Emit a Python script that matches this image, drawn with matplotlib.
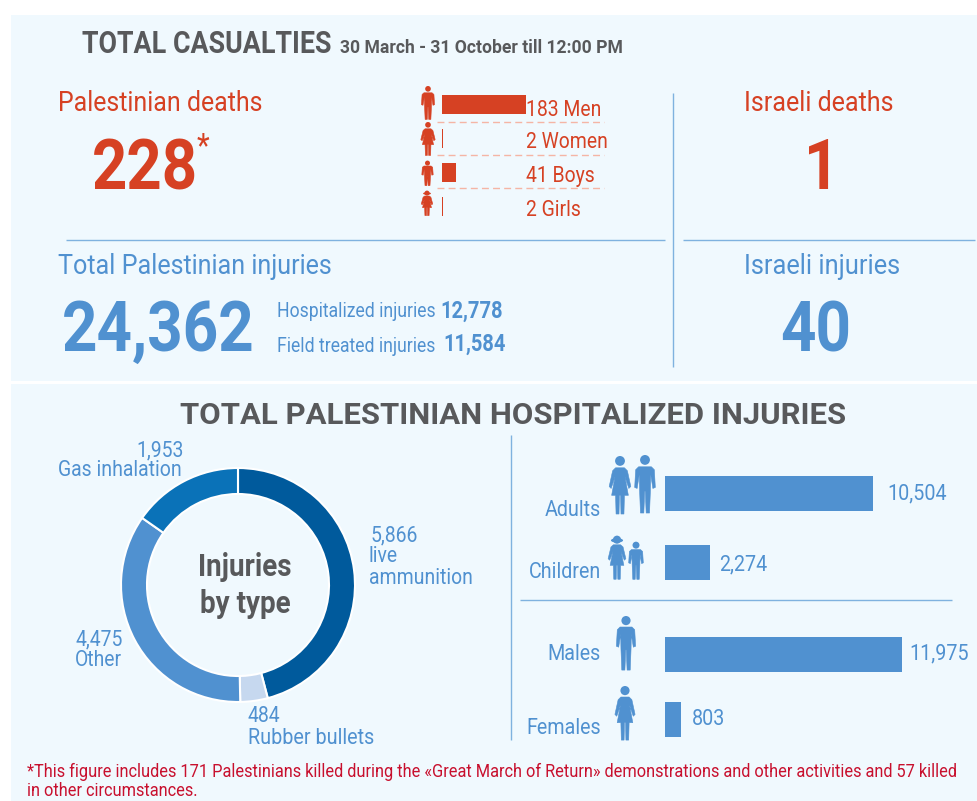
import os
import tempfile
import matplotlib
matplotlib.use("Agg")
import matplotlib.pyplot as plt
from matplotlib import font_manager as fm
from matplotlib.patches import Rectangle, Circle, Polygon, Ellipse

W, H = 978, 801
plt.rcParams['font.family'] = ['Roboto', 'DejaVu Sans']

# ---- data
death_labels = ["183 Men", "2 Women", "41 Boys", "2 Girls"]
death_bar_lengths = [183, 2, 30.5, 2]   # drawn bar lengths as they appear
age_labels = ["Adults", "Children"]
age_values = [10504, 2274]
age_texts = ["10,504", "2,274"]
sex_labels = ["Males", "Females"]
sex_values = [11975, 803]
sex_texts = ["11,975", "803"]
type_labels = ["live ammunition", "Rubber bullets", "Other", "Gas inhalation"]
type_values = [5866, 484, 4475, 1953]

RED = "#d64123"
BLUE = "#5091d0"
GREY = "#58595b"
PANEL = "#f0f9fe"
LINE = "#7fb2df"
type_colors = ["#005a9c", "#c6d8ef", "#5091d0", "#0a72b8"]

# ---- narrowed Roboto (the reference uses a condensed cut)
_tmp = tempfile.mkdtemp()
_cache = {}


def cond_font(weight, s):
    key = (weight, s)
    if key in _cache:
        return _cache[key]
    base = fm.findfont(fm.FontProperties(family="Roboto", weight=weight))
    out = base
    try:
        from fontTools.ttLib import TTFont
        f = TTFont(base)
        if "fvar" in f:
            from fontTools.varLib import instancer
            axes = {a.axisTag: a for a in f["fvar"].axes}
            loc = {t: a.defaultValue for t, a in axes.items()}
            if "wght" in axes:
                loc["wght"] = 700 if weight == "bold" else 400
            f = instancer.instantiateVariableFont(f, loc)
        glyf = f["glyf"]
        for name in glyf.keys():
            g = glyf[name]
            if g.isComposite():
                for c in g.components:
                    if hasattr(c, "x"):
                        c.x = round(c.x * s)
            elif g.numberOfContours > 0:
                g.coordinates.scale((s, 1))
            g.removeHinting()
        hm = f["hmtx"].metrics
        for name, (adv, lsb) in list(hm.items()):
            hm[name] = (round(adv * s), round(lsb * s))
        for tag in ("fpgm", "prep", "cvt ", "hdmx", "LTSH", "VDMX", "kern"):
            if tag in f:
                del f[tag]
        out = os.path.join(_tmp, f"rc_{weight}_{int(s * 1000)}.ttf")
        f.save(out)
    except Exception:
        out = base
    _cache[key] = out
    return out


fig = plt.figure(figsize=(W / 100, H / 100), dpi=100, facecolor="white")


def px_axes(x0, y0, x1, y1, **kw):
    a = fig.add_axes([x0 / W, 1 - y1 / H, (x1 - x0) / W, (y1 - y0) / H], **kw)
    a.axis("off")
    return a


ov = px_axes(0, 0, W, H)
ov.set_xlim(0, W)
ov.set_ylim(H, 0)
ov.add_patch(Rectangle((11, 15), W - 11, 366, fc=PANEL, ec="none"))
ov.add_patch(Rectangle((11, 384), W - 11, H - 384, fc=PANEL, ec="none"))


def T(x, y, s, size, color=BLUE, weight="normal", ha="left", cond=0.885):
    fp = fm.FontProperties(fname=cond_font(weight, cond), size=size)
    ov.text(x, y, s, fontproperties=fp, color=color, ha=ha, va="baseline", zorder=6)


def L(x0, y0, x1, y1, color=LINE, lw=1.0, **kw):
    ov.plot([x0, x1], [y0, y1], color=color, lw=lw, solid_capstyle="butt", **kw)


def person(cx, top, h, color, dress=False, hair=False, xw=1.0, head=1.0):
    u = h / 60.0
    X = lambda d: cx + d * u * xw
    Y = lambda d: top + d * u
    ov.add_patch(Circle((cx, Y(5)), 5.0 * u * head, fc=color, ec="none"))
    if hair:
        ov.add_patch(Ellipse((cx, Y(6)), 15 * u * xw, 6 * u, fc=color, ec="none"))
    if dress:
        pts = [(-4.5, 12), (4.5, 12), (7.5, 15), (11, 31), (9, 33), (5, 21), (8.5, 40), (4.5, 40), (4, 59),
               (1, 59), (.6, 40), (-.6, 40), (-1, 59), (-4, 59), (-4.5, 40), (-8.5, 40), (-5, 21),
               (-9, 33), (-11, 31), (-7.5, 15)]
    else:
        pts = [(-6.5, 12), (6.5, 12), (9.5, 15), (10.5, 33), (8, 34), (5.8, 20), (5.5, 36), (4.6, 59),
               (1.2, 59), (.3, 37), (-.3, 37), (-1.2, 59), (-4.6, 59), (-5.5, 36), (-5.8, 20),
               (-8, 34), (-10.5, 33), (-9.5, 15)]
    ov.add_patch(Polygon([(X(a), Y(b)) for a, b in pts], fc=color, ec=color, lw=0.4, joinstyle="round"))


# ---- header
T(82, 53, "TOTAL CASUALTIES", 22, GREY, "bold", cond=0.88)
T(340, 53, "30 March - 31 October till 12:00 PM", 14, GREY, "bold", cond=0.90)
T(58, 111, "Palestinian deaths", 20, RED, cond=0.90)
T(92, 189, "228", 51, RED, "bold", cond=0.87)
T(197, 156, "*", 24, RED)
T(744, 111, "Israeli deaths", 20, RED, cond=0.905)
T(822, 189, "1", 51, RED, "bold", ha="center", cond=0.87)

# ---- lines
L(66, 240, 665, 240)
L(683, 240, 975, 240)
L(673, 93, 673, 367)
L(511, 435, 511, 740)
L(520, 600, 952, 600)
for y in (122, 155, 188):
    L(437, y, 604, y, color="#f5b5a5", lw=1.0, linestyle=(0, (5, 3)))

# ---- deaths breakdown
person(428, 86, 34, RED, xw=1.1)
person(428, 122, 34, RED, dress=True, xw=1.15)
person(427.5, 161, 25, RED, xw=1.3, head=1.2)
person(427, 191, 25, RED, dress=True, hair=True, xw=1.25, head=1.2)
for lab, y in zip(death_labels, (116, 148, 182, 216)):
    T(526, y, lab, 16, RED, cond=0.87)

ax_d = px_axes(442, 87.5, 526, 223.5)
ax_d.barh(range(4), death_bar_lengths, height=19 / 34, color=RED)
ax_d.set_xlim(0, 183)
ax_d.set_ylim(3.5, -0.5)

# ---- injuries
T(58, 274, "Total Palestinian injuries", 20, BLUE, cond=0.905)
T(744, 274, "Israeli injuries", 20, BLUE, cond=0.915)
T(62, 351, "24,362", 51, BLUE, "bold", cond=0.875)
T(816, 351, "40", 51, BLUE, "bold", ha="center", cond=0.875)
T(277, 317, "Hospitalized injuries", 14.5, BLUE, cond=0.875)
T(440, 318, "12,778", 17, BLUE, "bold", cond=0.85)
T(277, 352, "Field treated injuries", 14.5, BLUE, cond=0.875)
T(443, 351, "11,584", 17, BLUE, "bold", cond=0.85)

# ---- lower panel
T(513, 424, "TOTAL PALESTINIAN HOSPITALIZED INJURIES", 21.5, GREY, "bold", ha="center", cond=1.04)

ax_p = px_axes(121, 468, 355, 702)
ax_p.pie(type_values, startangle=90, counterclock=False, colors=type_colors, radius=1,
         wedgeprops=dict(width=26 / 117, edgecolor="white", linewidth=1.5))
ax_p.set_xlim(-1, 1)
ax_p.set_ylim(-1, 1)

T(245, 576, "Injuries", 23, GREY, "bold", ha="center", cond=0.87)
T(245, 613, "by type", 23, GREY, "bold", ha="center", cond=0.87)
T(184, 456, f"{type_values[3]:,}", 16, ha="right", cond=0.87)
T(58, 476, type_labels[3], 16, cond=0.875)
T(371, 541, f"{type_values[0]:,}", 16, cond=0.87)
T(369, 562, "live", 16, cond=0.87)
T(369, 584, "ammunition", 16, cond=0.87)
T(75, 645, f"{type_values[2]:,}", 16, cond=0.87)
T(75, 666, type_labels[2], 16, cond=0.87)
T(248, 722, f"{type_values[1]:,}", 16, cond=0.87)
T(248, 744, type_labels[1], 16, cond=0.89)

# ---- age / sex bars
scale = 208 / 10504
ax_a = px_axes(665, 459, 665 + 12000 * scale, 597)
ax_a.barh(range(2), age_values, height=35 / 69, color=BLUE)
ax_a.set_xlim(0, 12000)
ax_a.set_ylim(1.5, -0.5)
ax_s = px_axes(665, 622, 665 + 12000 * scale, 752)
ax_s.barh(range(2), sex_values, height=35 / 65, color=BLUE)
ax_s.set_xlim(0, 12000)
ax_s.set_ylim(1.5, -0.5)

for lab, y in zip(age_labels + sex_labels, (516, 578, 660, 734)):
    T(601, y, lab, 16, ha="right")
for s, x, y in zip(age_texts + sex_texts, (887, 719, 909, 692), (499, 570, 659, 725)):
    T(x, y, s, 16)

person(620, 456, 59, BLUE, dress=True)
person(645, 455, 59, BLUE)
person(617, 536, 44, BLUE, dress=True, hair=True, xw=1.1, head=1.1)
person(636, 542, 38, BLUE, xw=1.1, head=1.1)
person(626, 616, 55, BLUE)
person(625, 686, 55, BLUE, dress=True)

# ---- footnote
FOOT = "#c8102e"
T(27, 777, "*This figure includes 171 Palestinians killed during the «Great March of Return» demonstrations and other activities and 57 killed", 13.2, FOOT, cond=0.89)
T(27, 796, "in other circumstances.", 13.2, FOOT, cond=0.89)

fig.savefig("out.png", dpi=100)
